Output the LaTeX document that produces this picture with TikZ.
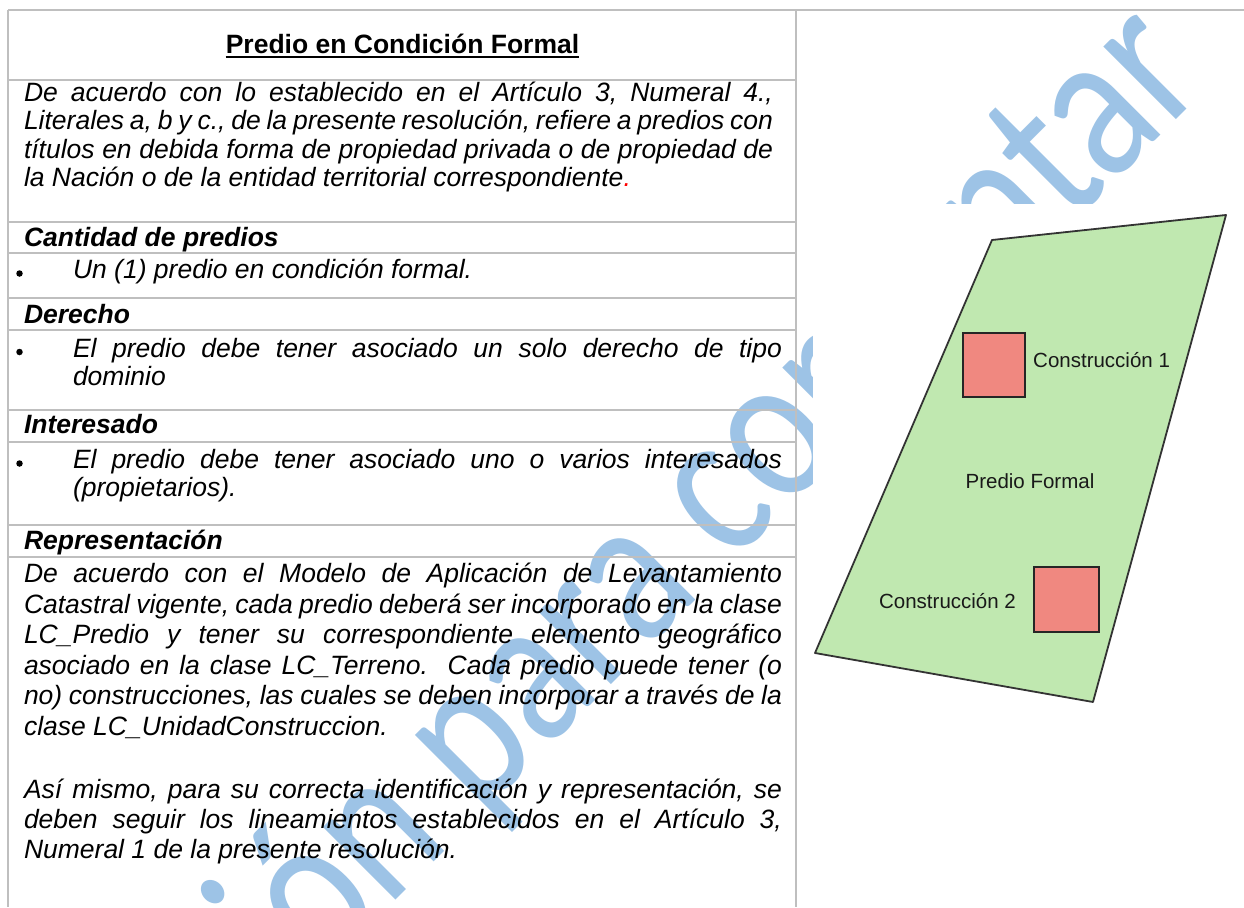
\documentclass[tikz,border=0pt]{standalone}
\usepackage{fontspec}
\setmainfont{Liberation Sans}
\newfontfamily\wmfont{Carlito}
\frenchspacing
\definecolor{gridc}{RGB}{191,191,191}
\definecolor{wmc}{RGB}{157,195,230}
\definecolor{lotfill}{RGB}{192,232,176}
\definecolor{bldfill}{RGB}{240,136,128}
\definecolor{redc}{RGB}{255,0,0}
\newcommand\jl[2]{\hbox to #1pt{#2}}
\tikzset{
  gridline/.style={draw=gridc, line width=1.5pt},
  body/.style={anchor=base west, inner sep=0pt, outer sep=0pt, font=\fontsize{26.5}{28}\selectfont\itshape},
  head/.style={anchor=base west, inner sep=0pt, outer sep=0pt, font=\fontsize{26.5}{28}\selectfont\bfseries\itshape},
  bul/.style={circle, fill=black, inner sep=0pt, minimum size=6.5pt},
  bld/.style={draw=black!85, fill=bldfill, line width=1.8pt, inner sep=0pt},
  maplabel/.style={inner sep=0pt, text=black!90, font=\fontsize{20.5}{22}\selectfont},
  wmark/.style={text=wmc, inner sep=0pt, font=\wmfont\fontsize{215}{215}\selectfont}
}
\begin{document}
\begin{tikzpicture}[x=1pt,y=-1pt]
\useasboundingbox (0,0) rectangle (1244,907);
\fill[white] (0,0) rectangle (1244,907);
% watermark
\node[wmark, rotate=45, anchor=base east] (wm) at (1212,84) {\scalebox{0.81}[1]{Versión para comentar}};
% image area in right column hides watermark
\fill[white] (813,204) rectangle (1244,720);
% table grid
\draw[gridline] (8,10) -- (1244,10);
\draw[gridline] (8,10) -- (8,907);
\draw[gridline] (796,10) -- (796,907);
\foreach \yy in {80,222,253,298,330,410,442,525,557}
  \draw[gridline] (8,\yy) -- (796,\yy);
% title
\node[anchor=base, inner sep=0pt, font=\fontsize{26.5}{28}\selectfont\bfseries] (title) at (402.5,54) {Predio en Condición Formal};
\draw[line width=2pt] ([yshift=-3.5pt]title.base west) -- ([yshift=-3.5pt]title.base east);
% paragraph 1
\node[body] (p1a) at (24,101) {\jl{749}{De acuerdo con lo establecido en el Artículo 3, Numeral 4.,}};
\node[body] (p1b) at (24,129.5) {\jl{749}{Literales a, b y c., de la presente resolución, refiere a predios con}};
\node[body] (p1c) at (24,158) {\jl{749}{títulos en debida forma de propiedad privada o de propiedad de}};
\node[body] (p1d) at (24,186.5) {la Nación o de la entidad territorial correspondiente\textcolor{redc}{.}};
% Cantidad
\node[head] (h1) at (24,246.5) {Cantidad de predios};
\node[bul] (b1) at (19.5,273.5) {};
\node[body] (t1) at (73,278.5) {Un (1) predio en condición formal.};
% Derecho
\node[head] (h2) at (24,323) {Derecho};
\node[bul] (b2) at (19.5,352) {};
\node[body] (t2a) at (73,357) {\jl{709}{El predio debe tener asociado un solo derecho de tipo}};
\node[body] (t2b) at (73,385) {dominio};
% Interesado
\node[head] (h3) at (24,433) {Interesado};
\node[bul] (b3) at (19.5,463.5) {};
\node[body] (t3a) at (73,468.5) {\jl{709}{El predio debe tener asociado uno o varios interesados}};
\node[body] (t3b) at (73,496.5) {(propietarios).};
% Representacion
\node[head] (h4) at (24,549.5) {Representación};
\node[body] (r1) at (24,582.5) {\jl{758}{De acuerdo con el Modelo de Aplicación de Levantamiento}};
\node[body] (r2) at (24,613) {\jl{758}{Catastral vigente, cada predio deberá ser incorporado en la clase}};
\node[body] (r3) at (24,643) {\jl{758}{LC\_Predio y tener su correspondiente elemento geográfico}};
\node[body] (r4) at (24,674) {\jl{758}{asociado en la clase LC\_Terreno.\ \ Cada predio puede tener (o}};
\node[body] (r5) at (24,704) {\jl{758}{no) construcciones, las cuales se deben incorporar a través de la}};
\node[body] (r6) at (24,735) {clase LC\_UnidadConstruccion.};
\node[body] (r7) at (24,798) {\jl{758}{Así mismo, para su correcta identificación y representación, se}};
\node[body] (r8) at (24,828) {\jl{758}{deben seguir los lineamientos establecidos en el Artículo 3,}};
\node[body] (r9) at (24,858) {Numeral 1 de la presente resolución.};
% map
\filldraw[fill=lotfill, draw=black!80, line width=1.8pt, line join=round] (992,240) -- (1226,215) -- (1093,702) -- (815,653) -- cycle;
\node[bld, minimum width=62pt, minimum height=64pt] (c1) at (994,365) {};
\node[bld, minimum width=65pt, minimum height=65pt] (c2) at (1066.5,599.5) {};
\node[maplabel, anchor=west] (l1) at (1033,360) {Construcción 1};
\node[maplabel] (l0) at (1030,481) {Predio Formal};
\node[maplabel] (l2) at (947.5,601) {Construcción 2};
\end{tikzpicture}
\end{document}
